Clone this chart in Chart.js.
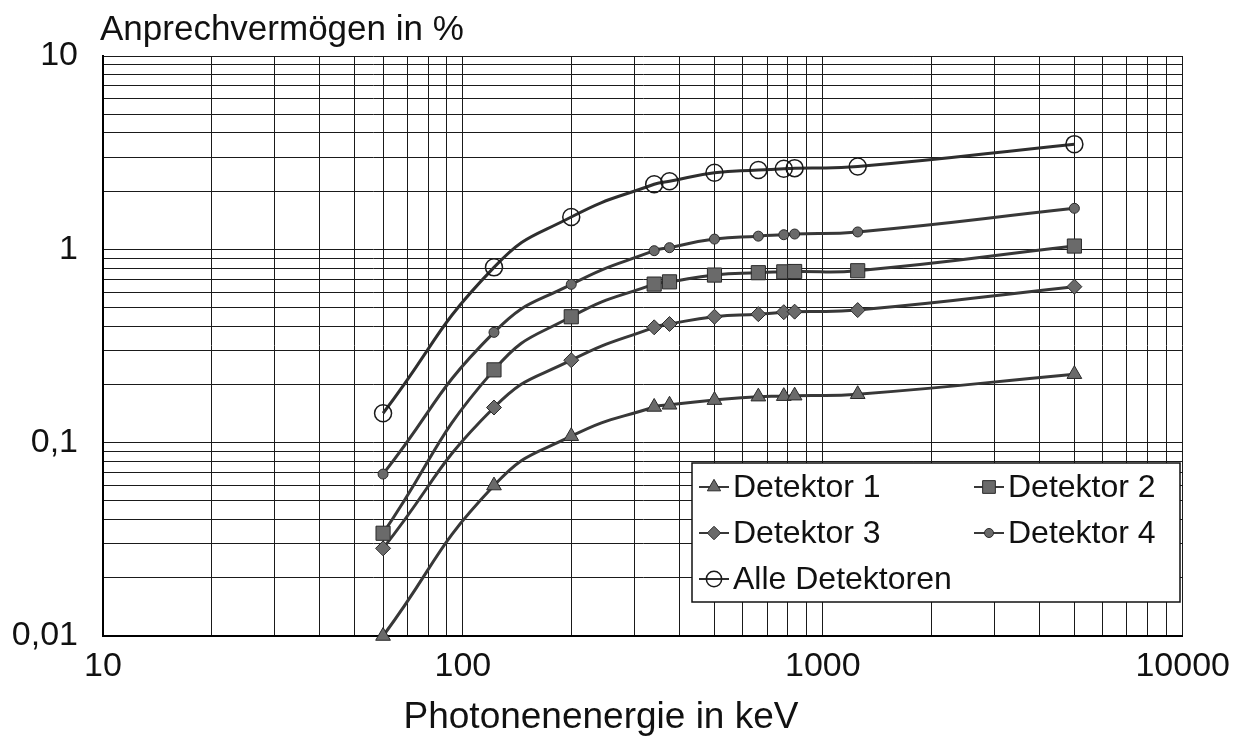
<!DOCTYPE html>
<html lang="de">
<head>
<meta charset="utf-8">
<title>Anprechvermögen</title>
<script src="https://cdn.jsdelivr.net/npm/chart.js@4/dist/chart.umd.min.js"></script>
<style>
  html, body { margin: 0; padding: 0; background: #fff; }
  canvas { display: block; }
</style>
</head>
<body>
<canvas id="chart" width="1240" height="749"></canvas>
<script>
// Photonenenergie in keV
const energies = [60, 122, 200, 340, 375, 500, 662, 779, 835, 1250, 5000];

// Anprechvermögen in %
const detektor1 = [0.010, 0.060, 0.108, 0.153, 0.157, 0.166, 0.173, 0.174, 0.175, 0.178, 0.226];
const detektor2 = [0.034, 0.238, 0.448, 0.661, 0.679, 0.736, 0.757, 0.765, 0.768, 0.775, 1.04];
const detektor3 = [0.0284, 0.152, 0.267, 0.395, 0.411, 0.448, 0.462, 0.473, 0.476, 0.485, 0.641];
const detektor4 = [0.0688, 0.372, 0.659, 0.984, 1.02, 1.13, 1.17, 1.19, 1.20, 1.23, 1.63];
const alleDetektoren = [0.142, 0.807, 1.47, 2.17, 2.25, 2.49, 2.57, 2.61, 2.63, 2.68, 3.50];

const seriesLabels = ["Detektor 1", "Detektor 2", "Detektor 3", "Detektor 4", "Alle Detektoren"];

const xDecades = [10, 100, 1000, 10000];
const xTickLabels = ["10", "100", "1000", "10000"];
const yDecades = [0.01, 0.1, 1, 10];
const yTickLabels = ["0,01", "0,1", "1", "10"];

const xTitle = "Photonenenergie in keV";
const yTitle = "Anprechvermögen in %";

const FONT = "'Liberation Sans', Arial, Helvetica, sans-serif";
const INK = "#111";

// every 1..9 step of each decade, so the grid gets all the minor lines
function logGrid(decades) {
  const values = [];
  for (let i = 0; i < decades.length - 1; i++) {
    for (let m = 1; m < 10; m++) values.push(m * decades[i]);
  }
  values.push(decades[decades.length - 1]);
  return values;
}

function decadeLabel(decades, labels) {
  return value => {
    const i = decades.findIndex(d => Math.abs(Math.log10(value / d)) < 1e-6);
    return i < 0 ? "" : labels[i];
  };
}

function toPoints(values) {
  return energies.map((x, i) => ({ x: x, y: values[i] }));
}

function series(label, values, style) {
  return Object.assign({
    label: label,
    data: toPoints(values),
    borderColor: "#383838",
    borderWidth: 3,
    tension: 0.5,
    pointBackgroundColor: "#6a6a6a",
    pointBorderColor: "#2a2a2a",
    pointBorderWidth: 1,
    clip: false
  }, style);
}

// axis titles sit outside the plot, placed by hand
const axisTitles = {
  id: "axisTitles",
  afterDraw(chart) {
    const ctx = chart.ctx;
    ctx.save();
    ctx.fillStyle = INK;
    ctx.font = "35px " + FONT;
    ctx.textAlign = "left";
    ctx.textBaseline = "alphabetic";
    ctx.fillText(yTitle, chart.chartArea.left - 3, 40);
    ctx.font = "37px " + FONT;
    ctx.textAlign = "center";
    ctx.textBaseline = "middle";
    ctx.fillText(xTitle, 601, 718);
    ctx.restore();
  }
};

// boxed legend in the lower right corner of the plot, two columns
const boxLegend = {
  id: "boxLegend",
  afterDraw(chart) {
    const ctx = chart.ctx;
    const box = { x: 692, y: 463, w: 488, h: 139 };
    const slots = [[714, 487], [989, 487], [714, 533], [989, 533], [714, 579]];
    ctx.save();
    ctx.fillStyle = "#fff";
    ctx.fillRect(box.x, box.y, box.w, box.h);
    ctx.strokeStyle = "#111";
    ctx.lineWidth = 1.5;
    ctx.strokeRect(box.x, box.y, box.w, box.h);

    chart.data.datasets.forEach((ds, i) => {
      const [cx, cy] = slots[i];
      ctx.strokeStyle = ds.borderColor;
      ctx.lineWidth = 2;
      ctx.beginPath();
      ctx.moveTo(cx - 15, cy);
      ctx.lineTo(cx + 15, cy);
      ctx.stroke();

      ctx.fillStyle = ds.pointBackgroundColor;
      ctx.strokeStyle = ds.pointBorderColor;
      ctx.lineWidth = ds.pointBorderWidth;
      Chart.helpers.drawPoint(ctx, {
        pointStyle: ds.pointStyle,
        radius: ds.pointRadius * 0.9,
        rotation: 0,
        borderWidth: ds.pointBorderWidth
      }, cx, cy);

      ctx.fillStyle = INK;
      ctx.font = "32px " + FONT;
      ctx.textAlign = "left";
      ctx.textBaseline = "middle";
      ctx.fillText(ds.label, cx + 19, cy + 1);
    });
    ctx.restore();
  }
};

const gridLines = {
  color: "#1a1a1a",
  lineWidth: 1,
  drawTicks: false
};

new Chart(document.getElementById("chart"), {
  type: "line",
  data: {
    datasets: [
      series(seriesLabels[0], detektor1, { pointStyle: "triangle", pointRadius: 8.5 }),
      series(seriesLabels[1], detektor2, { pointStyle: "rect", pointRadius: 10 }),
      series(seriesLabels[2], detektor3, { pointStyle: "rectRot", pointRadius: 7.5 }),
      series(seriesLabels[3], detektor4, { pointStyle: "circle", pointRadius: 5 }),
      series(seriesLabels[4], alleDetektoren, {
        pointStyle: "circle",
        pointRadius: 8.5,
        pointBackgroundColor: "rgba(255,255,255,0)",
        pointBorderColor: "#1a1a1a",
        pointBorderWidth: 1.5,
        borderColor: "#2e2e2e"
      })
    ]
  },
  options: {
    responsive: false,
    animation: false,
    layout: { padding: { top: 56, right: 53, bottom: 0, left: 0 } },
    plugins: {
      legend: { display: false },
      tooltip: { enabled: false }
    },
    scales: {
      x: {
        type: "logarithmic",
        position: "bottom",
        min: 10,
        max: 10000,
        afterBuildTicks: scale => {
          scale.ticks = logGrid(xDecades).map(v => ({ value: v }));
        },
        afterFit: scale => { scale.height = 113; },
        grid: gridLines,
        border: { color: "#000", width: 2 },
        ticks: {
          autoSkip: false,
          maxRotation: 0,
          padding: 10,
          color: INK,
          font: { family: FONT, size: 34 },
          callback: decadeLabel(xDecades, xTickLabels)
        }
      },
      y: {
        type: "logarithmic",
        min: 0.01,
        max: 10,
        afterBuildTicks: scale => {
          scale.ticks = logGrid(yDecades).map(v => ({ value: v }));
        },
        afterFit: scale => { scale.width = 103; },
        grid: gridLines,
        border: { color: "#000", width: 2 },
        ticks: {
          autoSkip: false,
          padding: 25,
          color: INK,
          font: { family: FONT, size: 34 },
          callback: decadeLabel(yDecades, yTickLabels)
        }
      }
    }
  },
  plugins: [axisTitles, boxLegend]
});
</script>
</body>
</html>
